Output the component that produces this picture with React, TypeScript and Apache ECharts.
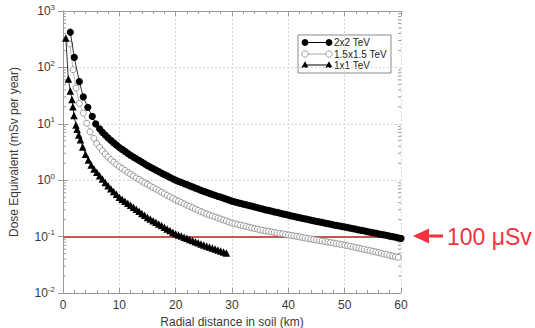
import React, { useEffect, useRef } from "react";
import * as echarts from "echarts";

const FONT = "'Liberation Sans', Arial, sans-serif";

const seriesNames = ["2x2 TeV", "1.5x1.5 TeV", "1x1 TeV"];

// [radial distance km, dose mSv/year]
const dose2x2: [number, number][] = [
  [1.3, 420], [2.0, 150], [2.9, 56], [3.6, 30], [4.4, 19.6], [5.2, 13.5], [5.8, 10],
  [6.5, 8.13], [7, 7.08], [7.5, 6.31], [8, 5.62], [8.5, 5.07], [9, 4.57], [9.5, 4.17], [10, 3.8],
  [10.5, 3.51], [11, 3.24], [11.5, 2.99], [12, 2.75], [12.5, 2.57], [13, 2.4], [13.5, 2.24], [14, 2.09], [14.5, 1.95], [15, 1.82],
  [15.5, 1.71], [16, 1.61], [16.5, 1.51], [17, 1.42], [17.5, 1.34], [18, 1.26], [18.5, 1.19], [19, 1.12], [19.5, 1.06], [20, 1.0],
  [20.5, 0.955], [21, 0.912], [21.5, 0.871], [22, 0.832], [22.5, 0.794], [23, 0.759], [23.5, 0.724], [24, 0.692], [24.5, 0.661], [25, 0.631],
  [25.5, 0.607], [26, 0.583], [26.5, 0.561], [27, 0.54], [27.5, 0.519], [28, 0.499], [28.5, 0.48], [29, 0.461], [29.5, 0.444], [30, 0.427],
  [30.5, 0.414], [31, 0.402], [31.5, 0.39], [32, 0.378], [32.5, 0.367], [33, 0.356], [33.5, 0.346], [34, 0.336], [34.5, 0.326], [35, 0.316],
  [35.5, 0.308], [36, 0.299], [36.5, 0.291], [37, 0.283], [37.5, 0.275], [38, 0.268], [38.5, 0.261], [39, 0.254], [39.5, 0.247], [40, 0.24],
  [40.5, 0.234], [41, 0.228], [41.5, 0.222], [42, 0.217], [42.5, 0.211], [43, 0.206], [43.5, 0.201], [44, 0.196], [44.5, 0.191], [45, 0.186],
  [45.5, 0.182], [46, 0.178], [46.5, 0.174], [47, 0.17], [47.5, 0.166], [48, 0.162], [48.5, 0.158], [49, 0.155], [49.5, 0.151], [50, 0.148],
  [50.5, 0.145], [51, 0.141], [51.5, 0.138], [52, 0.135], [52.5, 0.132], [53, 0.129], [53.5, 0.126], [54, 0.123], [54.5, 0.12], [55, 0.117],
  [55.5, 0.115], [56, 0.112], [56.5, 0.11], [57, 0.107], [57.5, 0.105], [58, 0.102], [58.5, 0.1], [59, 0.098], [59.5, 0.095], [60, 0.093],
];

const dose15x15: [number, number][] = [
  [1.2, 260], [1.8, 91], [2.3, 43], [2.9, 23], [3.6, 15.5], [4.2, 10.2], [4.8, 7.2],
  [5.5, 5.5], [6, 4.47], [6.5, 3.85], [7, 3.31], [7.5, 2.92], [8, 2.57], [8.5, 2.32], [9, 2.09], [9.5, 1.91], [10, 1.74],
  [10.5, 1.61], [11, 1.49], [11.5, 1.38], [12, 1.28], [12.5, 1.19], [13, 1.1], [13.5, 1.03], [14, 0.959], [14.5, 0.897], [15, 0.841],
  [15.5, 0.789], [16, 0.741], [16.5, 0.695], [17, 0.653], [17.5, 0.612], [18, 0.575], [18.5, 0.54], [19, 0.507], [19.5, 0.475], [20, 0.447],
  [20.5, 0.424], [21, 0.402], [21.5, 0.381], [22, 0.361], [22.5, 0.343], [23, 0.325], [23.5, 0.308], [24, 0.292], [24.5, 0.277], [25, 0.263],
  [25.5, 0.252], [26, 0.242], [26.5, 0.232], [27, 0.223], [27.5, 0.214], [28, 0.205], [28.5, 0.197], [29, 0.189], [29.5, 0.181], [30, 0.174],
  [30.5, 0.169], [31, 0.164], [31.5, 0.16], [32, 0.156], [32.5, 0.151], [33, 0.147], [33.5, 0.143], [34, 0.139], [34.5, 0.136], [35, 0.132],
  [35.5, 0.129], [36, 0.126], [36.5, 0.124], [37, 0.121], [37.5, 0.119], [38, 0.116], [38.5, 0.114], [39, 0.112], [39.5, 0.109], [40, 0.107],
  [40.5, 0.105], [41, 0.103], [41.5, 0.101], [42, 0.0987], [42.5, 0.0966], [43, 0.0946], [43.5, 0.0927], [44, 0.0908], [44.5, 0.0889], [45, 0.0871],
  [45.5, 0.0853], [46, 0.0836], [46.5, 0.0818], [47, 0.0802], [47.5, 0.0785], [48, 0.0769], [48.5, 0.0753], [49, 0.0738], [49.5, 0.0723], [50, 0.0708],
  [50.5, 0.069], [51, 0.0673], [51.5, 0.0656], [52, 0.064], [52.5, 0.0624], [53, 0.0608], [53.5, 0.0593], [54, 0.0578], [54.5, 0.0564], [55, 0.055],
  [55.5, 0.0535], [56, 0.052], [56.5, 0.0506], [57, 0.0492], [57.5, 0.0479], [58, 0.0466], [58.5, 0.0453], [59, 0.0441], [59.5, 0.0429],
];

const dose1x1: [number, number][] = [
  [0.5, 331], [0.95, 62], [1.3, 38], [1.6, 27], [1.75, 20], [1.95, 14], [2.3, 9.5], [2.5, 8.0], [2.8, 6.3], [3.1, 5.2],
  [3.5, 3.89], [4, 2.88], [4.5, 2.29], [5, 1.86],
  [5.5, 1.58], [6, 1.38], [6.5, 1.2], [7, 1.05], [7.5, 0.912], [8, 0.794], [8.5, 0.708], [9, 0.631], [9.5, 0.562], [10, 0.501],
  [10.5, 0.461], [11, 0.425], [11.5, 0.391], [12, 0.36], [12.5, 0.331], [13, 0.305], [13.5, 0.281], [14, 0.258], [14.5, 0.238], [15, 0.219],
  [15.5, 0.205], [16, 0.191], [16.5, 0.179], [17, 0.167], [17.5, 0.157], [18, 0.147], [18.5, 0.137], [19, 0.128], [19.5, 0.12], [20, 0.112],
  [20.5, 0.107], [21, 0.102], [21.5, 0.0977], [22, 0.0933], [22.5, 0.0891], [23, 0.0851], [23.5, 0.0813], [24, 0.0776], [24.5, 0.0741], [25, 0.0708],
  [25.5, 0.0679], [26, 0.0653], [26.5, 0.0627], [27, 0.0603], [27.5, 0.0578], [28, 0.0556], [28.5, 0.0533], [29, 0.0513],
];

const limitDose = 0.1; // 100 µSv
const limitLabel = "100 μSv";

const xTitle = "Radial distance in soil (km)";
const yTitle = "Dose Equivalent (mSv per year)";

// log-axis minor tick positions (2..9 × 10^k)
const minorMultipliers = [2, 3, 4, 5, 6, 7, 8, 9];
const decades = [0.01, 0.1, 1, 10, 100];

export default function App() {
  const ref = useRef<HTMLDivElement>(null);

  useEffect(() => {
    if (!ref.current) return;
    const chart = echarts.init(ref.current, null, { renderer: "svg" });

    const minorTicks: number[][] = [];
    decades.forEach((d) => minorMultipliers.forEach((m) => minorTicks.push([0, d * m])));

    const axisGray = "#9a9a9a";
    const labelColor = "#3a3a3a";

    const legendX = 298;
    const legendY = 35;
    const rows = [42.5, 54, 65];
    const legendChildren: any[] = [
      {
        type: "rect",
        shape: { x: legendX, y: legendY, width: 93, height: 38 },
        style: { fill: "#fff", stroke: "#8a8a8a", lineWidth: 1 },
      },
    ];
    const mk = (i: number, cx: number, cy: number) => {
      if (i === 0) return { type: "circle", shape: { cx, cy, r: 3.4 }, style: { fill: "#000" } };
      if (i === 1)
        return { type: "circle", shape: { cx, cy, r: 3.2 }, style: { fill: "#fff", stroke: "#888", lineWidth: 0.8 } };
      return {
        type: "polygon",
        shape: { points: [[cx, cy - 3.8], [cx - 3.6, cy + 2.8], [cx + 3.6, cy + 2.8]] },
        style: { fill: "#000" },
      };
    };
    rows.forEach((cy, i) => {
      legendChildren.push({
        type: "line",
        shape: { x1: 305, y1: cy, x2: 329, y2: cy },
        style: { stroke: i === 1 ? "#aaa" : "#000", lineWidth: 1 },
      });
      legendChildren.push(mk(i, 305, cy));
      legendChildren.push(mk(i, 329, cy));
      legendChildren.push({
        type: "text",
        x: 334,
        y: cy,
        style: {
          text: seriesNames[i],
          fontSize: 10,
          fontFamily: FONT,
          fill: "#222",
          verticalAlign: "middle",
          align: "left",
        },
      });
    });

    const arrowRed = "#f2323f";

    const option: any = {
      animation: false,
      backgroundColor: "#fff",
      grid: { left: 63, right: 134, top: 11, bottom: 35, containLabel: false, outerBoundsMode: "none" },
      xAxis: [
        {
          type: "value",
          min: 0,
          max: 60,
          interval: 10,
          name: xTitle,
          nameLocation: "middle",
          nameGap: 20,
          nameTextStyle: { fontSize: 12, color: labelColor, fontFamily: FONT },
          axisLine: { lineStyle: { color: axisGray } },
          axisTick: { inside: true, length: 5, lineStyle: { color: axisGray } },
          minorTick: { show: true, splitNumber: 5, length: 3, lineStyle: { color: axisGray } },
          axisLabel: { fontSize: 12, color: labelColor, fontFamily: FONT, margin: 6 },
          splitLine: { show: true, lineStyle: { color: "#d6d6d6", type: [2, 2], width: 1 } },
        },
        {
          type: "value",
          min: 0,
          max: 60,
          interval: 10,
          position: "top",
          axisLine: { show: true, lineStyle: { color: axisGray } },
          axisTick: { show: true, inside: true, length: 5, lineStyle: { color: axisGray } },
          minorTick: { show: true, splitNumber: 5, length: 3, lineStyle: { color: axisGray } },
          axisLabel: { show: false },
          splitLine: { show: false },
        },
      ],
      yAxis: [
        {
          type: "log",
          logBase: 10,
          min: 0.01,
          max: 1000,
          name: yTitle,
          nameLocation: "middle",
          nameGap: 43,
          nameTextStyle: { fontSize: 12, color: labelColor, fontFamily: FONT },
          axisLine: { show: true, lineStyle: { color: axisGray } },
          axisTick: { show: true, inside: true, length: 5, lineStyle: { color: axisGray } },
          axisLabel: {
            margin: 8,
            formatter: (v: number) => `{b|10}{s|${Math.round(Math.log10(v))}}`,
            rich: {
              b: { fontSize: 12, color: labelColor, fontFamily: FONT },
              s: { fontSize: 8, color: labelColor, fontFamily: FONT, padding: [0, 0, 8, 0] },
            },
          },
          splitLine: { show: true, lineStyle: { color: "#d6d6d6", type: [2, 2], width: 1 } },
        },
        {
          type: "log",
          logBase: 10,
          min: 0.01,
          max: 1000,
          position: "right",
          axisLine: { show: true, lineStyle: { color: axisGray } },
          axisTick: { show: true, inside: true, length: 5, lineStyle: { color: axisGray } },
          axisLabel: { show: false },
          splitLine: { show: false },
        },
      ],
      series: [
        {
          type: "custom",
          silent: true,
          clip: false,
          z: 1,
          data: minorTicks,
          renderItem: (params: any, api: any) => {
            const y = api.coord([0, api.value(1)])[1];
            const cs = params.coordSys;
            return {
              type: "group",
              children: [
                { type: "line", shape: { x1: cs.x, y1: y, x2: cs.x + 3, y2: y }, style: { stroke: axisGray, lineWidth: 1 } },
                {
                  type: "line",
                  shape: { x1: cs.x + cs.width - 3, y1: y, x2: cs.x + cs.width, y2: y },
                  style: { stroke: axisGray, lineWidth: 1 },
                },
              ],
            };
          },
        },
        {
          name: seriesNames[1],
          type: "line",
          data: dose15x15,
          symbol: "circle",
          symbolSize: 6,
          z: 3,
          lineStyle: { color: "#aaa", width: 0.8 },
          itemStyle: { color: "#fff", borderColor: "#808080", borderWidth: 0.8 },
        },
        {
          name: seriesNames[2],
          type: "line",
          data: dose1x1,
          symbol: "triangle",
          symbolSize: 7.5,
          z: 4,
          lineStyle: { color: "#000", width: 0.8 },
          itemStyle: { color: "#000" },
        },
        {
          name: seriesNames[0],
          type: "line",
          data: dose2x2,
          symbol: "circle",
          symbolSize: 7.2,
          z: 5,
          lineStyle: { color: "#000", width: 0.8 },
          itemStyle: { color: "#000" },
          markLine: {
            silent: true,
            symbol: "none",
            label: { show: false },
            lineStyle: { color: "#c9554f", width: 2, type: "solid" },
            data: [{ yAxis: limitDose }],
            z: 2,
          },
        },
      ],
      graphic: [
        { type: "group", children: legendChildren, z: 100 },
        {
          type: "polygon",
          shape: { points: [[413, 236], [429, 228.5], [429, 243.5]] },
          style: { fill: arrowRed },
        },
        { type: "rect", shape: { x: 428, y: 234.5, width: 15, height: 3 }, style: { fill: arrowRed } },
        {
          type: "text",
          x: 447,
          y: 237,
          style: {
            text: limitLabel,
            fontSize: 23,
            fontFamily: FONT,
            fill: arrowRed,
            verticalAlign: "middle",
            align: "left",
          },
        },
      ],
    };

    chart.setOption(option);
    return () => chart.dispose();
  }, []);

  return (
    <div
      ref={ref}
      style={{ position: "fixed", left: 0, top: 0, width: 535, height: 328, background: "#fff" }}
    />
  );
}
